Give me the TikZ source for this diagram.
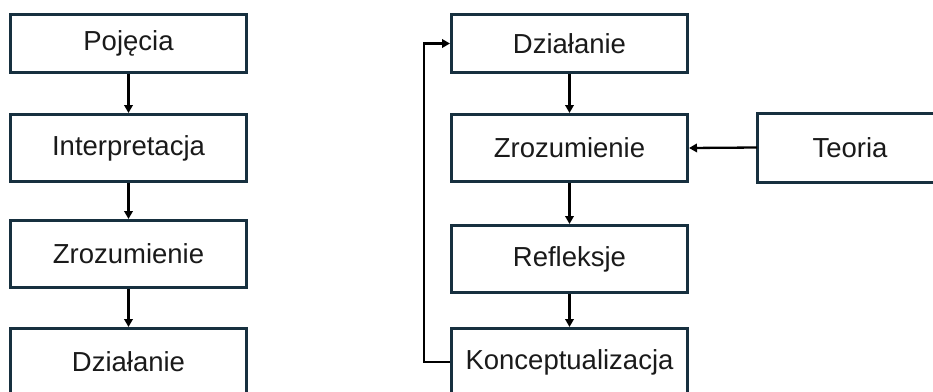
\documentclass[tikz,border=0pt]{standalone}
\usepackage{fontspec}
\setmainfont{Liberation Sans}
\usetikzlibrary{arrows.meta}
\definecolor{boxline}{HTML}{17303F}
\definecolor{txt}{HTML}{1A1A1A}
\begin{document}
\begin{tikzpicture}[x=1pt,y=-1pt,
  box/.style={draw=boxline, line width=3pt, fill=white, inner sep=0pt,
    minimum width=236pt, font=\fontsize{27.5}{31}\selectfont, text=txt},
  openbox/.style={box, draw=none, fill=none},
  conn/.style={draw=black, line width=2.3pt, -{Triangle[length=8pt,width=8.5pt]}}]
\useasboundingbox (0,0) rectangle (933,391);
\fill[white] (0,0) rectangle (933,391);
\begin{scope}
\clip (0,-10) rectangle (933,410);
% left column
\node[box, minimum height=58pt] (l1) at (128.5,43.5) {Pojęcia};
\node[box, minimum height=67pt] (l2) at (128.5,148) {Interpretacja};
\node[box, minimum height=67pt] (l3) at (128.5,254) {Zrozumienie};
\node[box, minimum height=67pt] (l4) at (128.5,362) {Działanie};
% right column
\node[box, minimum height=58pt] (r1) at (569.5,43.5) {Działanie};
\node[box, minimum height=67pt] (r2) at (569.5,148) {Zrozumienie};
\node[box, minimum height=67pt] (r3) at (569.5,259) {Refleksje};
\node[box, minimum height=67pt] (r4) at (569.5,362) {Konceptualizacja};
\node[openbox, minimum height=66pt, minimum width=183pt] (t) at (850,147.5) {Teoria};
\coordinate (far) at (1000,0);
\draw[boxline, line width=3pt] (t.north west -| far) -- (t.north west) -- (t.south west) -- (t.south west -| far);
\coordinate (lp) at (424,0);
% connectors
\draw[conn] (l1.south) -- (l2.north);
\draw[conn] (l2.south) -- (l3.north);
\draw[conn] (l3.south) -- (l4.north);
\draw[conn] (r1.south) -- (r2.north);
\draw[conn] (r2.south) -- (r3.north);
\draw[conn] (r3.south) -- (r4.north);
\draw[conn] (t.west) -- (r2.east);
\draw[conn] (r4.west) -- (r4.west -| lp) -- (r1.west -| lp) -- (r1.west);
\end{scope}
\end{tikzpicture}
\end{document}
